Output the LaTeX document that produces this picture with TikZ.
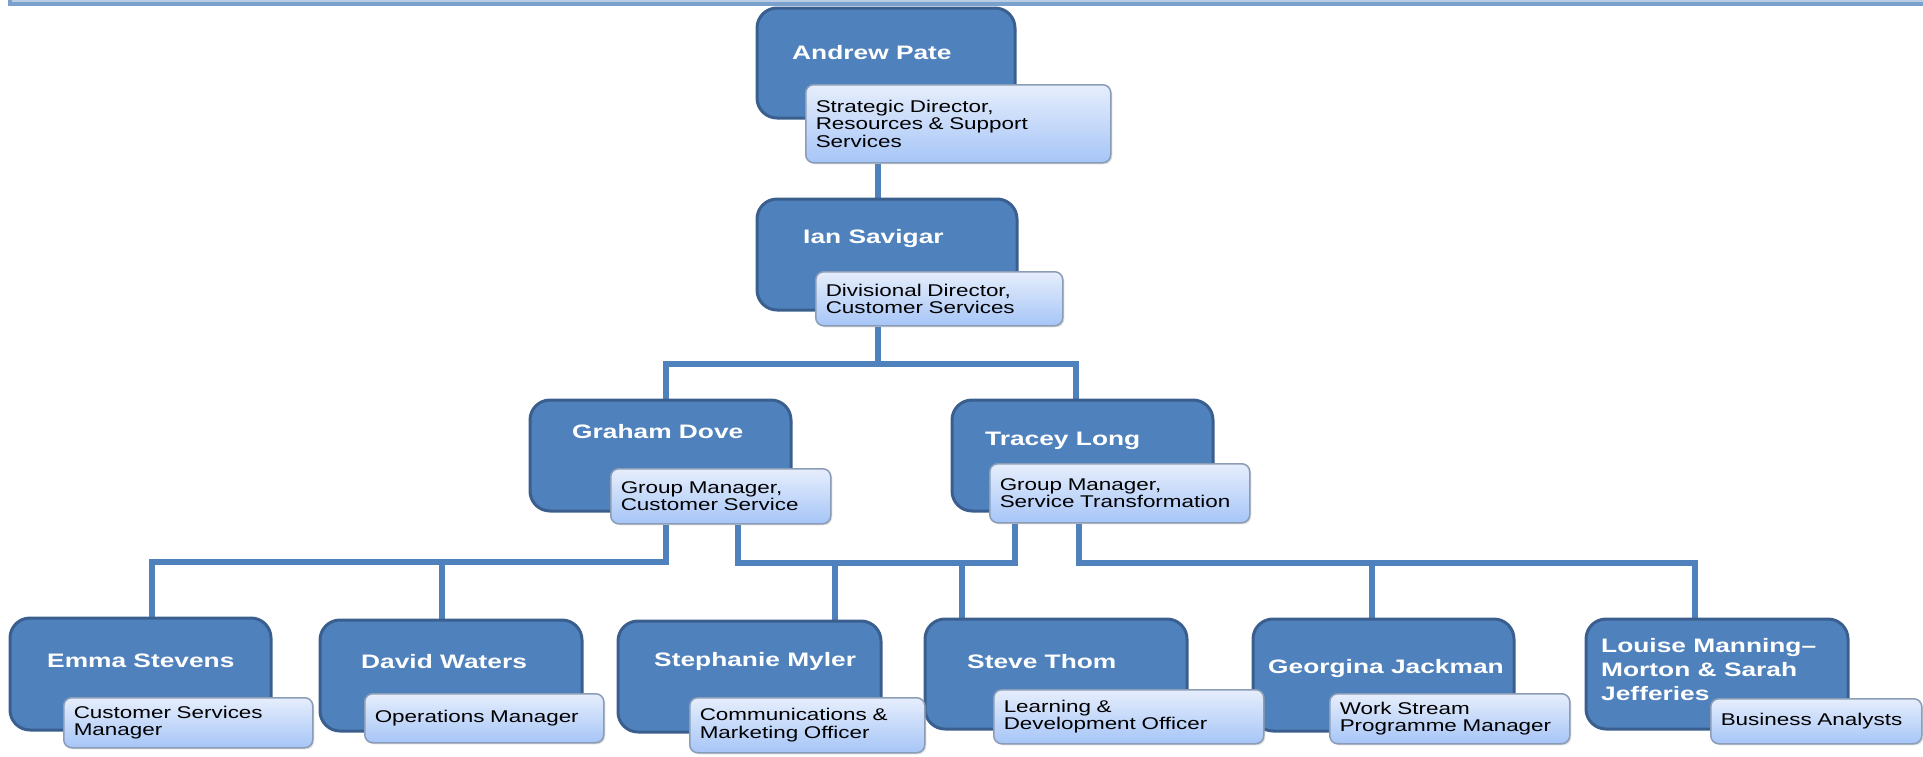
\documentclass[tikz,border=0pt]{standalone}
\usepackage{fontspec}
\setmainfont{Liberation Sans}
\newfontfamily\namefont[FakeStretch=1.35]{Liberation Sans}
\newfontfamily\titlefont[FakeStretch=1.32]{Liberation Sans}
\usetikzlibrary{fit,shadows}
\definecolor{boxblue}{HTML}{4F81BD}
\definecolor{boxedge}{HTML}{3A5F8E}
\definecolor{subtop}{HTML}{E6EEFC}
\definecolor{subbot}{HTML}{A6C5F7}
\definecolor{subedge}{HTML}{8B9DB6}
\definecolor{connblue}{HTML}{4F81BD}
\definecolor{toplight}{HTML}{B9CDE5}
\definecolor{topdark}{HTML}{7AA0CC}
\pgfdeclarelayer{bg}
\pgfsetlayers{bg,main}
\tikzset{
  bigbox/.style={draw=boxedge, line width=3pt, fill=boxblue, rounded corners=20pt, inner sep=0pt},
  subbox/.style={draw=subedge, line width=1.5pt, top color=subtop, bottom color=subbot,
    rounded corners=8pt, anchor=north west, align=left, inner xsep=10pt, inner ysep=0pt,
    font=\titlefont\fontsize{17}{17.6}\selectfont,
    drop shadow={opacity=0.25, shadow xshift=1.5pt, shadow yshift=-1.5pt}},
  namelabel/.style={text=white, font=\namefont\bfseries\fontsize{19.5}{24}\selectfont,
    inner sep=0pt, anchor=base west, align=left},
  conn/.style={draw=connblue, line width=6pt}
}
\begin{document}
\begin{tikzpicture}[x=1pt,y=-1pt]
\useasboundingbox (0,0) rectangle (1923,756);
% top rule
\fill[topdark] (8,0) rectangle (1923,6);
\fill[toplight] (12,0) rectangle (1923,2);

% big boxes
\node[bigbox, fit={(757,8)(1015,118)}] (ap) {};
\node[bigbox, fit={(757,199)(1017,310)}] (ian) {};
\node[bigbox, fit={(530,400)(791,511)}] (gd) {};
\node[bigbox, fit={(952,400)(1213,511)}] (tl) {};
\node[bigbox, fit={(10,618)(271,730)}] (es) {};
\node[bigbox, fit={(320,620)(582,731)}] (dw) {};
\node[bigbox, fit={(618,621)(881,732)}] (sm) {};
\node[bigbox, fit={(925,619)(1187,729)}] (st) {};
\node[bigbox, fit={(1253,619)(1514,731)}] (gj) {};
\node[bigbox, fit={(1586,619)(1848,729)}] (lm) {};

% names
\node[namelabel] (apn) at (792,59) {Andrew Pate};
\node[namelabel] (iann) at (803,243) {Ian Savigar};
\node[namelabel] (gdn) at (572,438) {Graham Dove};
\node[namelabel] (tln) at (985,445) {Tracey Long};
\node[namelabel] (esn) at (47,667) {Emma Stevens};
\node[namelabel] (dwn) at (361,668) {David Waters};
\node[namelabel] (smn) at (654,666) {Stephanie Myler};
\node[namelabel] (stn) at (967,668) {Steve Thom};
\node[namelabel] (gjn) at (1268,673) {Georgina Jackman};
\node[namelabel, anchor=north west] (lmn) at (1601,638) {Louise Manning–\\Morton \& Sarah\\Jefferies};

% titles
\node[subbox, minimum width=305pt, minimum height=78pt, text width=285pt] (apt) at (805,84) {Strategic Director,\\Resources \& Support\\Services};
\node[subbox, minimum width=247pt, minimum height=54pt, text width=227pt] (iant) at (815,271) {Divisional Director,\\Customer Services};
\node[subbox, minimum width=220pt, minimum height=55pt, text width=200pt] (gdt) at (610,468) {Group Manager,\\Customer Service};
\node[subbox, minimum width=260pt, minimum height=59pt, text width=240pt] (tlt) at (989,463) {Group Manager,\\Service Transformation};
\node[subbox, minimum width=249pt, minimum height=50pt, text width=229pt] (est) at (63,697) {Customer Services\\Manager};
\node[subbox, minimum width=239pt, minimum height=49pt, text width=219pt] (dwt) at (364,693) {Operations Manager};
\node[subbox, minimum width=235pt, minimum height=55pt, text width=215pt] (smt) at (689,697) {Communications \&\\Marketing Officer};
\node[subbox, minimum width=270pt, minimum height=54pt, text width=250pt] (stt) at (993,689) {Learning \&\\Development Officer};
\node[subbox, minimum width=240pt, minimum height=50pt, text width=220pt] (gjt) at (1329,693) {Work Stream\\Programme Manager};
\node[subbox, minimum width=211pt, minimum height=45pt, text width=191pt] (lmt) at (1710,698) {Business Analysts};

% connector coordinates
\coordinate (xa) at (878,0);
\coordinate (gx) at (666,0);
\coordinate (tx) at (1076,0);
\coordinate (gx2) at (738,0);
\coordinate (tx1) at (1015,0);
\coordinate (tx2) at (1079,0);
\coordinate (esx) at (152,0);
\coordinate (dwx) at (442,0);
\coordinate (smx) at (835,0);
\coordinate (stx) at (962,0);
\coordinate (gjx) at (1372,0);
\coordinate (lmx) at (1695,0);
\coordinate (busA) at (0,364);
\coordinate (busL) at (0,562);
\coordinate (busM) at (0,563);

\begin{pgfonlayer}{bg}
\draw[conn] (apt.south -| xa) -- (ian.north -| xa);
\draw[conn] (iant.south -| xa) -- (xa |- busA);
\draw[conn] (gd.north -| gx) -- (gx |- busA) -- (tx |- busA) -- (tl.north -| tx);
\draw[conn] (gdt.south -| gx) -- (gx |- busL) -- (esx |- busL) -- (es.north -| esx);
\draw[conn] (dwx |- busL) -- (dw.north -| dwx);
\draw[conn] (gdt.south -| gx2) -- (gx2 |- busM) -- (tx1 |- busM) -- (tlt.south -| tx1);
\draw[conn] (smx |- busM) -- (sm.north -| smx);
\draw[conn] (stx |- busM) -- (st.north -| stx);
\draw[conn] (tlt.south -| tx2) -- (tx2 |- busM) -- (lmx |- busM) -- (lm.north -| lmx);
\draw[conn] (gjx |- busM) -- (gj.north -| gjx);
\end{pgfonlayer}
\end{tikzpicture}
\end{document}
